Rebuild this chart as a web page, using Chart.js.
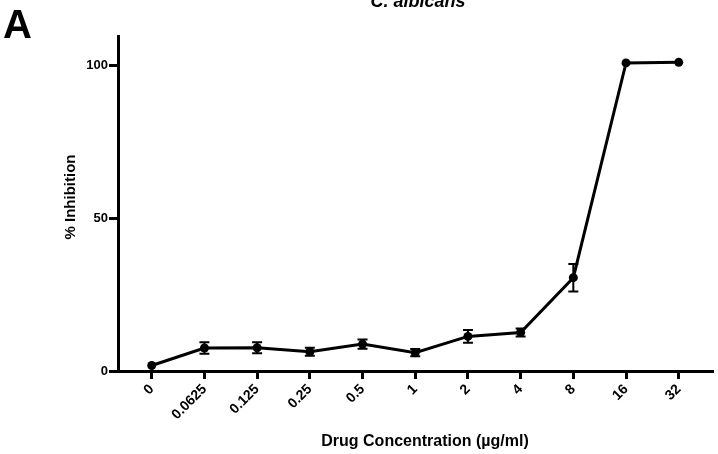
<!DOCTYPE html>
<html>
<head>
<meta charset="utf-8">
<title>C. albicans</title>
<script src="https://cdn.jsdelivr.net/npm/chart.js@4.4.1/dist/chart.umd.min.js"></script>
<style>
    html, body { margin: 0; padding: 0; background: #fff; }
    #wrap { width: 718px; height: 454px; position: relative; }
</style>
</head>
<body>
<div id="wrap"><canvas id="graph_inhibition"></canvas></div>
<script>
// values
const concentrations = ['0', '0.0625', '0.125', '0.25', '0.5', '1', '2', '4', '8', '16', '32'];
const inhibition = [1.8, 7.5, 7.6, 6.3, 8.8, 6.0, 11.3, 12.6, 30.5, 100.7, 100.9];
const inhibition_err = [0, 1.9, 1.8, 1.3, 1.5, 1.2, 2.1, 1.3, 4.5, 0, 0];
const y_ticks = [0, 50, 100];

const FONT = '"Liberation Sans", Arial, sans-serif';

// error bars, drawn with the chart's own scales
const errorBars = {
    id: 'errorBars',
    afterDatasetsDraw(chart) {
        const c = chart.ctx;
        const xs = chart.scales.x;
        const ys = chart.scales.y;
        c.save();
        c.strokeStyle = '#000';
        c.lineWidth = 2;
        inhibition.forEach((v, i) => {
            const e = inhibition_err[i];
            if (!e) return;
            const px = xs.getPixelForValue(i);
            const top = ys.getPixelForValue(v + e);
            const bot = ys.getPixelForValue(v - e);
            c.beginPath();
            c.moveTo(px, top); c.lineTo(px, bot);
            c.moveTo(px - 5, top); c.lineTo(px + 5, top);
            c.moveTo(px - 5, bot); c.lineTo(px + 5, bot);
            c.stroke();
        });
        c.restore();
    }
};

// panel letter, title and axis titles
const labels = {
    id: 'labels',
    afterDraw(chart) {
        const c = chart.ctx;
        c.save();
        c.fillStyle = '#000';
        c.textBaseline = 'alphabetic';

        c.textAlign = 'left';
        c.font = 'bold 40px ' + FONT;
        c.fillText('A', 3, 38);

        c.textAlign = 'center';
        c.font = 'italic bold 18px ' + FONT;
        c.fillText('C. albicans', 418, 7);

        c.font = 'bold 16px ' + FONT;
        c.fillText('Drug Concentration (µg/ml)', 425, 446);

        c.font = 'bold 15px ' + FONT;
        c.translate(75, 197);
        c.rotate(-Math.PI / 2);
        c.fillText('% Inhibition', 0, 0);
        c.restore();
    }
};

let ctx = document.getElementById('graph_inhibition').getContext('2d');
const graph_inhibition = new Chart(ctx, {
    type: 'line',
    data: {
        datasets: [{
            label: '% Inhibition',
            data: inhibition.map((v, i) => ({ x: i, y: v })),
            borderColor: '#000',
            backgroundColor: '#000',
            borderWidth: 3,
            pointRadius: 4.5,
            pointBorderWidth: 0,
            tension: 0
        }]
    },
    options: {
        responsive: true,
        maintainAspectRatio: false,
        animation: false,
        events: [],
        layout: { padding: { top: 36, right: 1, left: 0, bottom: 0 } },
        plugins: {
            legend: { display: false },
            tooltip: { enabled: false }
        },
        scales: {
            x: {
                type: 'linear',
                min: -0.64,
                max: 10.66,
                afterBuildTicks: (scale) => {
                    scale.ticks = concentrations.map((c, i) => ({ value: i }));
                },
                afterFit: (scale) => { scale.height = 83; },
                ticks: {
                    autoSkip: false,
                    minRotation: 45,
                    maxRotation: 45,
                    padding: 2,
                    color: '#000',
                    font: { family: FONT, size: 14, weight: 'bold' },
                    callback: (v) => concentrations[v]
                },
                grid: {
                    drawOnChartArea: false,
                    tickLength: 8,
                    tickWidth: 3,
                    tickColor: '#000'
                },
                border: { color: '#000', width: 3 }
            },
            y: {
                min: 0,
                max: 109.5,
                afterBuildTicks: (scale) => {
                    scale.ticks = y_ticks.map(v => ({ value: v }));
                },
                afterFit: (scale) => { scale.width = 118; },
                ticks: {
                    padding: 1,
                    color: '#000',
                    font: { family: FONT, size: 13, weight: 'bold' }
                },
                grid: {
                    drawOnChartArea: false,
                    tickLength: 9,
                    tickWidth: 3,
                    tickColor: '#000'
                },
                border: { color: '#000', width: 3 }
            }
        }
    },
    plugins: [errorBars, labels]
});
</script>
</body>
</html>
